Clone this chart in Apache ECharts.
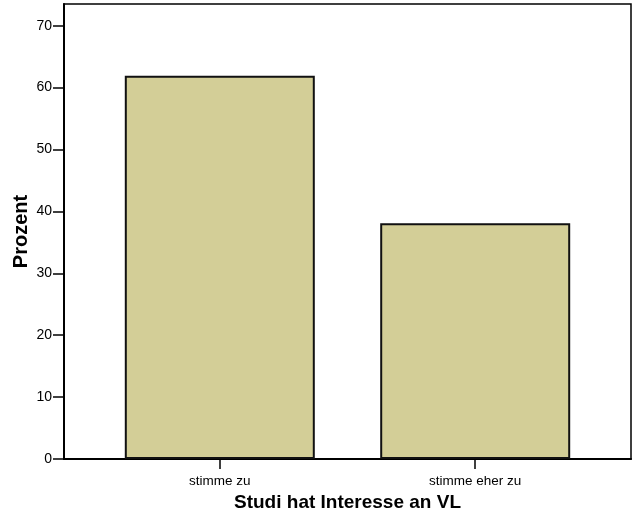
<!DOCTYPE html>
<html>
<head>
<meta charset="utf-8">
<script src="https://cdn.jsdelivr.net/npm/echarts@6/dist/echarts.min.js"></script>
<style>html,body{margin:0;padding:0;background:#fff;}#chart{width:639px;height:517px;}</style>
</head>
<body>
<div id="chart"></div>
<script>
const categories = ['stimme zu', 'stimme eher zu'];
const percentValues = [61.9, 38.1];
const yTicks = [0, 10, 20, 30, 40, 50, 60, 70];

const chart = echarts.init(document.getElementById('chart'), null, {renderer: 'canvas'});
const font = 'Liberation Sans, Arial, sans-serif';
chart.setOption({
  animation: false,
  backgroundColor: '#ffffff',
  grid: {left: 64, top: 4, right: 8, bottom: 58, outerBoundsMode: 'none', containLabel: false, show: true, borderColor: '#000', borderWidth: 1.5, backgroundColor: '#fff'},
  xAxis: {
    type: 'value', min: -0.61, max: 1.61,
    name: 'Studi hat Interesse an VL', nameLocation: 'middle', nameGap: 34, nameMoveOverlap: false,
    nameTextStyle: {fontFamily: font, fontSize: 19, fontWeight: 'bold', color: '#000'},
    splitLine: {show: false},
    axisLine: {onZero: false, lineStyle: {color: '#000', width: 2}},
    axisTick: {customValues: categories.map((c, i) => i), length: 10, lineStyle: {color: '#000', width: 1.5}},
    axisLabel: {customValues: categories.map((c, i) => i), formatter: v => categories[Math.round(v)] || '', margin: 15, fontFamily: font, fontSize: 13.5, color: '#000'}
  },
  yAxis: {
    type: 'value', min: 0, max: 73.5,
    name: 'Prozent', nameLocation: 'middle', nameGap: 33, nameMoveOverlap: false,
    nameTextStyle: {fontFamily: font, fontSize: 20, fontWeight: 'bold', color: '#000'},
    splitLine: {show: false},
    axisLine: {show: true, onZero: false, lineStyle: {color: '#000', width: 2}},
    axisTick: {show: true, customValues: yTicks, length: 11, lineStyle: {color: '#000', width: 1.5}},
    axisLabel: {customValues: yTicks, margin: 12, fontFamily: font, fontSize: 14, color: '#000'}
  },
  series: [{
    type: 'bar',
    barWidth: 190,
    data: percentValues.map((v, i) => [i, v]),
    itemStyle: {color: '#D3CE97', borderColor: '#111', borderWidth: 2}
  }]
});
</script>
</body>
</html>
